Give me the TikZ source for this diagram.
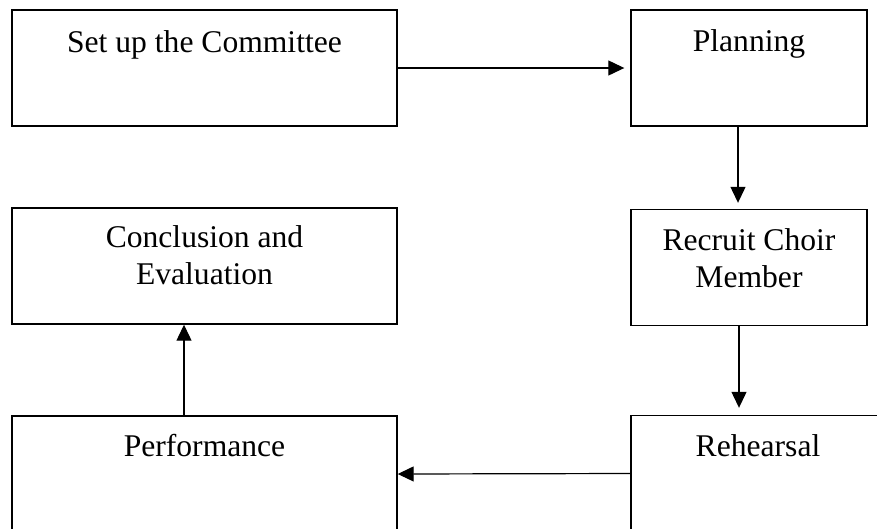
\documentclass[tikz,border=0pt]{standalone}
\usepackage{fontspec}
\setmainfont{Liberation Serif}
\usepackage{tikz}
\usetikzlibrary{arrows.meta,positioning}

\begin{document}
\begin{tikzpicture}[x=1pt, y=-1pt, font=\fontsize{31.6}{37}\selectfont]
   \clip (0,0) rectangle (877,528);
   \begin{scope}[every node/.style={rectangle,draw=black,line width=1.4pt,inner sep=0pt,minimum height=116pt}]
    \node (v1) [minimum width=385pt, label={[anchor=base,yshift=-43pt]north:Set up the Committee}] at (204.5,68) {};
    \node (v2) [minimum width=236pt, label={[anchor=base,yshift=-42pt]north:Planning}] at (749,68) {};
    \node (v3) [minimum width=236pt, label={[anchor=base,yshift=-79pt,align=center]north:Recruit Choir\\Member}] at (749,267.5) {};
    \node (v4) [minimum width=385pt, label={[anchor=base,yshift=-77pt,align=center]north:Conclusion and\\Evaluation}] at (204.5,266) {};
    \node (v5) [minimum width=385pt, label={[anchor=base,yshift=-41pt]north:Performance}] at (204.5,474) {};
    \node (v6) [minimum width=254pt, label={[anchor=base,yshift=-42pt]north:Rehearsal}] at (758,473.5) {};
   \end{scope}
   \begin{scope}[every edge/.style={draw=black,line width=1.2pt,-{Triangle[length=16pt,width=15pt]}}]
    \draw  (v1.east) edge [shorten >=6pt] (v2.west);
    \draw  ([xshift=-11pt]v2.south) edge [shorten >=6pt] ([xshift=-11pt]v3.north);
    \draw  ([xshift=-10pt]v3.south) edge [shorten >=7pt] ([xshift=-19pt]v6.north);
    \draw  (v6.west) edge (v5.east);
    \draw  ([xshift=-20.5pt]v5.north) edge ([xshift=-20.5pt]v4.south);
   \end{scope}
\end{tikzpicture}
\end{document}
